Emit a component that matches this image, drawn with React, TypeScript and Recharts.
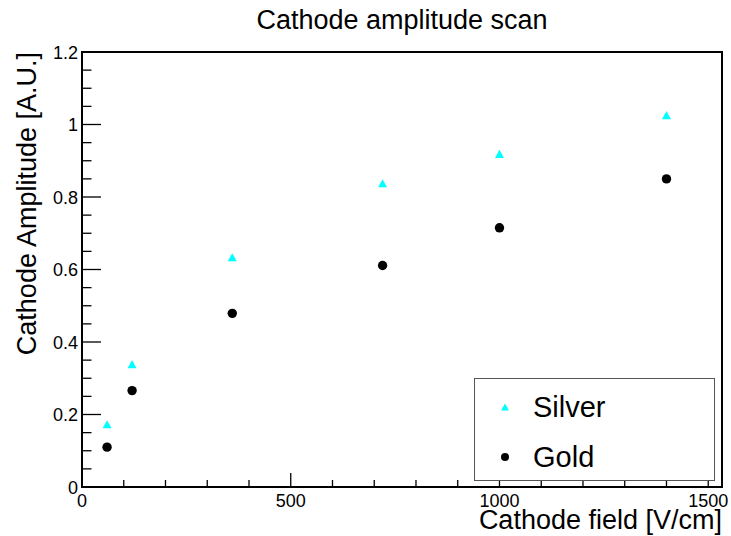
import { ScatterChart, Scatter, XAxis, YAxis, Legend } from "recharts";

const fieldValues = [60, 120, 360, 720, 1000, 1400];
const silverAmplitude = [0.173, 0.339, 0.634, 0.838, 0.919, 1.026];
const goldAmplitude = [0.11, 0.266, 0.479, 0.611, 0.715, 0.85];

const xMajorTicks = [0, 500, 1000, 1500];
const xMinorTicks = [0, 100, 200, 300, 400, 500, 600, 700, 800, 900, 1000, 1100, 1200, 1300, 1400, 1500];
const yMajorTicks = [0, 0.2, 0.4, 0.6, 0.8, 1, 1.2];
const yMinorTicks = [
  0, 0.05, 0.1, 0.15, 0.2, 0.25, 0.3, 0.35, 0.4, 0.45, 0.5, 0.55, 0.6, 0.65, 0.7, 0.75, 0.8, 0.85,
  0.9, 0.95, 1, 1.05, 1.1, 1.15, 1.2,
];
const xMax = 1533;
const yMax = 1.2;

const silverData = fieldValues.map((x, i) => ({ x, y: silverAmplitude[i] }));
const goldData = fieldValues.map((x, i) => ({ x, y: goldAmplitude[i] }));

const FONT = "'Liberation Sans', Arial, Helvetica, sans-serif";
const W = 731;
const H = 536;
const PLOT_TOP = 52;
const PLOT_LEFT = 82;
const PLOT_BOTTOM = 487;
const PLOT_RIGHT = 722;

function Triangle({ cx, cy, size = 9, fill = "#00ffff" }: any) {
  const h = size * 0.9;
  return (
    <polygon
      points={`${cx - size / 2},${cy + h / 2} ${cx + size / 2},${cy + h / 2} ${cx},${cy - h / 2}`}
      fill={fill}
    />
  );
}

function Dot({ cx, cy, r = 4.7 }: any) {
  return <circle cx={cx} cy={cy} r={r} fill="#000" />;
}

function BottomTick({ x, y, payload }: any) {
  const major = xMajorTicks.includes(payload.value);
  return (
    <g>
      <line x1={x} x2={x} y1={y} y2={y - (major ? 14 : 7)} stroke="#000" strokeWidth={1.3} />
      {major && (
        <text x={x} y={y + 19.5} textAnchor="middle" fontSize={18} fontFamily={FONT} fill="#000">
          {payload.value}
        </text>
      )}
    </g>
  );
}

function TopTick({ x, y, payload }: any) {
  const major = xMajorTicks.includes(payload.value);
  return <line x1={x} x2={x} y1={y} y2={y + (major ? 12 : 6)} stroke="#000" strokeWidth={1.3} />;
}

function LeftTick({ x, y, payload }: any) {
  const major = yMajorTicks.includes(payload.value);
  return (
    <g>
      <line x1={x} x2={x + (major ? 19 : 9.5)} y1={y} y2={y} stroke="#000" strokeWidth={1.3} />
      {major && (
        <text x={x - 4} y={y + 6.5} textAnchor="end" fontSize={18} fontFamily={FONT} fill="#000">
          {String(payload.value)}
        </text>
      )}
    </g>
  );
}

function RightTick({ x, y, payload }: any) {
  const major = yMajorTicks.includes(payload.value);
  return <line x1={x} x2={x - (major ? 17 : 9)} y1={y} y2={y} stroke="#000" strokeWidth={1.3} />;
}

const legendItems = [
  { name: "Silver", icon: "triangle" },
  { name: "Gold", icon: "dot" },
];

function LegendBox() {
  return (
    <div
      style={{
        boxSizing: "border-box",
        width: 241,
        height: 103,
        border: "1.5px solid #555",
        background: "#fff",
        fontFamily: FONT,
        paddingTop: 3,
      }}
    >
      {legendItems.map((item) => (
        <div key={item.name} style={{ display: "flex", alignItems: "center", height: 50 }}>
          <svg width={58} height={20} style={{ flex: "none" }}>
            {item.icon === "triangle" ? (
              <Triangle cx={30} cy={10} size={8} />
            ) : (
              <circle cx={30} cy={10} r={4} fill="#000" />
            )}
          </svg>
          <span style={{ fontSize: 29, color: "#000" }}>{item.name}</span>
        </div>
      ))}
    </div>
  );
}

export default function App() {
  return (
    <div style={{ position: "absolute", left: 0, top: 0, width: W, height: H, background: "#fff" }}>
      <div
        style={{
          position: "absolute",
          left: 0,
          top: 0,
          width: 804,
          textAlign: "center",
          fontFamily: FONT,
          fontSize: 27,
          lineHeight: "40px",
        }}
      >
        Cathode amplitude scan
      </div>
      <ScatterChart
        width={W}
        height={H}
        margin={{ top: PLOT_TOP, right: W - PLOT_RIGHT, bottom: 0, left: 0 }}
      >
        <XAxis
          xAxisId="bottom"
          dataKey="x"
          type="number"
          domain={[0, xMax]}
          ticks={xMinorTicks}
          interval={0}
          height={H - PLOT_BOTTOM}
          tickSize={0}
          tickMargin={0}
          tickLine={false}
          tick={<BottomTick />}
          axisLine={false}
        />
        <XAxis
          xAxisId="top"
          orientation="top"
          type="number"
          domain={[0, xMax]}
          ticks={xMinorTicks}
          interval={0}
          height={0}
          tickSize={0}
          tickMargin={0}
          tickLine={false}
          tick={<TopTick />}
          axisLine={false}
        />
        <YAxis
          yAxisId="left"
          dataKey="y"
          type="number"
          domain={[0, yMax]}
          ticks={yMinorTicks}
          interval={0}
          width={PLOT_LEFT}
          tickSize={0}
          tickMargin={0}
          tickLine={false}
          tick={<LeftTick />}
          axisLine={false}
        />
        <YAxis
          yAxisId="right"
          orientation="right"
          type="number"
          domain={[0, yMax]}
          ticks={yMinorTicks}
          interval={0}
          width={0}
          tickSize={0}
          tickMargin={0}
          tickLine={false}
          tick={<RightTick />}
          axisLine={false}
        />
        <Legend
          layout="horizontal"
          verticalAlign="middle"
          align="center"
          wrapperStyle={{ left: 474, top: 378, width: 241, height: 103 }}
          content={() => <LegendBox />}
        />
        <Scatter
          name="Silver"
          data={silverData}
          xAxisId="bottom"
          yAxisId="left"
          shape={(p: any) => <Triangle cx={p.cx} cy={p.cy} />}
          isAnimationActive={false}
        />
        <Scatter
          name="Gold"
          data={goldData}
          xAxisId="bottom"
          yAxisId="left"
          shape={(p: any) => <Dot cx={p.cx} cy={p.cy} />}
          isAnimationActive={false}
        />
      </ScatterChart>
      {/* plot frame */}
      <div
        style={{
          position: "absolute",
          left: PLOT_LEFT - 1,
          top: PLOT_TOP - 1,
          width: PLOT_RIGHT - PLOT_LEFT + 2,
          height: PLOT_BOTTOM - PLOT_TOP + 2,
          boxSizing: "border-box",
          border: "2px solid #000",
          pointerEvents: "none",
        }}
      />
      <div
        style={{
          position: "absolute",
          right: W - PLOT_RIGHT,
          top: 505,
          fontFamily: FONT,
          fontSize: 27,
          whiteSpace: "nowrap",
        }}
      >
        Cathode field [V/cm]
      </div>
      <div
        style={{
          position: "absolute",
          left: 12,
          top: PLOT_TOP,
          fontFamily: FONT,
          fontSize: 27,
          whiteSpace: "nowrap",
          transformOrigin: "0 0",
          transform: "rotate(-90deg) translateX(-100%)",
        }}
      >
        Cathode Amplitude [A.U.]
      </div>
    </div>
  );
}
